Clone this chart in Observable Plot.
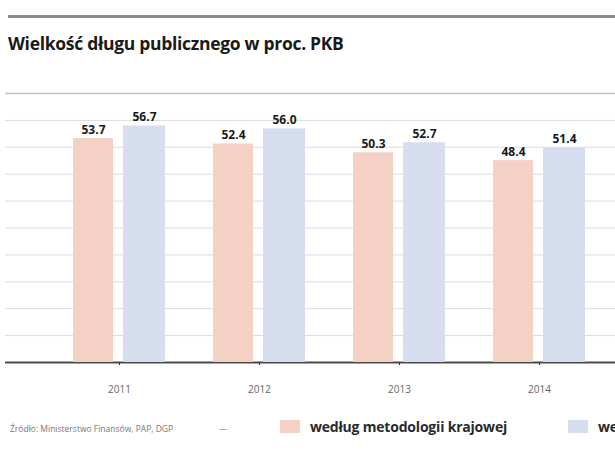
<!DOCTYPE html>
<html>
<head>
<meta charset="utf-8">
<script src="https://cdn.jsdelivr.net/npm/d3@7"></script>
<script src="https://cdn.jsdelivr.net/npm/@observablehq/plot@0.6"></script>
<style>
  html, body { margin: 0; padding: 0; background: #fff; overflow: hidden; }
  body { width: 615px; height: 473px; font-family: "Open Sans", sans-serif; position: relative; }
  #rule { position: absolute; left: 8px; right: 0; top: 15px; height: 0; border-top: 3px solid #8c8c8c; }
  #title { position: absolute; left: 8px; top: 31px; font-size: 17.5px; font-weight: 700; color: #1a1a1a; letter-spacing: -0.3px; white-space: nowrap; }
  #chart { position: absolute; left: 0; top: 70px; }
  #legend { position: absolute; left: 0; top: 417px; width: 700px; height: 22px; white-space: nowrap; }
  #legend .src { position: absolute; left: 10px; top: 6px; font-size: 8.5px; color: #777; }
  #legend .dash { position: absolute; left: 219px; top: 5px; font-size: 8px; color: #777; }
  #legend .item { position: absolute; top: 0; display: flex; align-items: center; color: #2a2a2a; font-weight: 700; font-size: 14px; letter-spacing: -0.2px; }
  #legend .sw { display: inline-block; width: 20px; height: 13px; margin-right: 10px; }
</style>
</head>
<body>
<div id="rule"></div>
<div id="title">Wielkość długu publicznego w proc. PKB</div>
<div id="chart"></div>
<div id="legend"></div>
<script>
const years = ["2011", "2012", "2013", "2014"];
const krajowa = [53.7, 52.4, 50.3, 48.4];
const ue = [56.7, 56.0, 52.7, 51.4];
const seriesNames = ["według metodologii krajowej", "według metodologii UE"];
const seriesColors = ["#f4d1c4", "#d6ddee"];
const sourceText = "Źródło: Ministerstwo Finansów, PAP, DGP";
const yTop = 64.5;

const rowsK = years.map((year, i) => ({year, series: seriesNames[0], value: krajowa[i]}));
const rowsU = years.map((year, i) => ({year, series: seriesNames[1], value: ue[i]}));
const grid = d3.range(1, 11).map(i => yTop * i / 10);

const chart = Plot.plot({
  width: 615,
  height: 330,
  marginTop: 23,
  marginBottom: 38,
  marginLeft: 5,
  marginRight: 0,
  style: {fontFamily: "Open Sans, sans-serif", background: "white"},
  x: {domain: years, range: [49, 609], padding: 0, label: null},
  y: {domain: [0, yTop], axis: null},
  marks: [
    Plot.ruleY(grid.slice(0, -1), {stroke: "#dcdcdc", strokeWidth: 1}),
    Plot.ruleY([yTop], {stroke: "#c4c4c4", strokeWidth: 1.5}),
    Plot.ruleY([0], {stroke: "#4a4a4a", strokeWidth: 2}),
    Plot.axisX({tickSize: 3, tickPadding: 20, stroke: "#333", fill: "#666", fontSize: 10}),
    Plot.barY(rowsK, {x: "year", y: "value", fill: seriesColors[0], insetLeft: 24, insetRight: 76}),
    Plot.barY(rowsU, {x: "year", y: "value", fill: seriesColors[1], insetLeft: 74, insetRight: 24}),
    Plot.text(rowsK, {x: "year", y: "value", text: d => d.value.toFixed(1), dx: -26, dy: -5, lineAnchor: "bottom", fontSize: 12, fontWeight: "bold", fill: "#1a1a1a"}),
    Plot.text(rowsU, {x: "year", y: "value", text: d => d.value.toFixed(1), dx: 25, dy: -5, lineAnchor: "bottom", fontSize: 12, fontWeight: "bold", fill: "#1a1a1a"})
  ]
});
document.getElementById("chart").appendChild(chart);

const legend = document.getElementById("legend");
legend.innerHTML =
  `<span class="src">${sourceText}</span>` +
  `<span class="dash">—</span>` +
  `<span class="item" style="left:280px"><span class="sw" style="background:${seriesColors[0]}"></span>${seriesNames[0]}</span>` +
  `<span class="item" style="left:568px"><span class="sw" style="background:${seriesColors[1]}"></span>${seriesNames[1]}</span>`;
</script>
</body>
</html>
